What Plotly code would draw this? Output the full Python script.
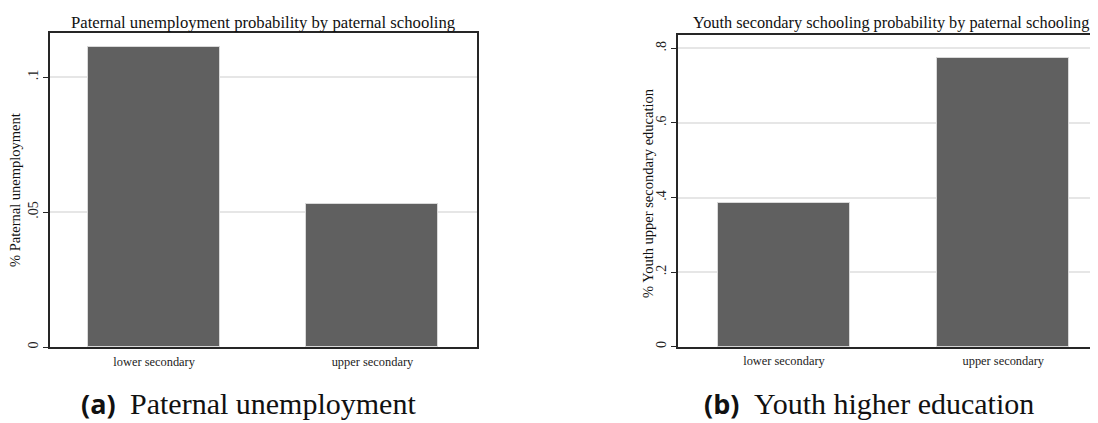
import plotly.graph_objects as go

categories = ["lower secondary", "upper secondary"]
paternal_unemployment = [0.1110, 0.0530]
youth_secondary = [0.3845, 0.7730]

left_ticks = [0, 0.05, 0.1]
left_ticktext = ["0", ".05", ".1"]
right_ticks = [0, 0.2, 0.4, 0.6, 0.8]
right_ticktext = ["0", ".2", ".4", ".6", ".8"]

# page body has an 8px margin; figure is placed at (8, 8) in the window
OFF = 8
W, H = 1098 - OFF, 423 - OFF
SERIF = "Liberation Serif"
BAR = "#606060"
BAR_LINE = "#d9d9d9"
GRID = "#e6e6e6"
AX = "#262626"

fig = go.Figure()
fig.add_trace(go.Bar(x=[0, 1], y=paternal_unemployment, width=0.605,
                     marker=dict(color=BAR, line=dict(color=BAR_LINE, width=1)),
                     xaxis="x", yaxis="y", showlegend=False))
fig.add_trace(go.Bar(x=[0, 1], y=youth_secondary, width=0.602,
                     marker=dict(color=BAR, line=dict(color=BAR_LINE, width=1)),
                     xaxis="x2", yaxis="y2", showlegend=False))

def px_x(v):
    return (v - OFF) / W

def px_y(v):
    return 1 - (v - OFF) / H

common_x = dict(showgrid=False, zeroline=False, showline=True, linecolor=AX, linewidth=1.5,
                mirror=True, ticks="", tickmode="array", tickvals=[0, 1], ticktext=categories,
                tickfont=dict(family=SERIF, size=12.4, color="#222"), ticklabelstandoff=2)
common_y = dict(showgrid=True, gridcolor=GRID, gridwidth=1.5, zeroline=False, showline=True,
                linecolor=AX, linewidth=1.5, ticks="outside", ticklen=5, tickcolor=AX,
                tickwidth=1.2, tickangle=-90, tickfont=dict(family=SERIF, size=14, color="#222"),
                tickmode="array", ticklabelstandoff=0)

fig.update_layout(
    width=W, height=H, margin=dict(l=0, r=0, t=0, b=0),
    paper_bgcolor="white", plot_bgcolor="white", bargap=0,
    xaxis=dict(common_x, domain=[px_x(50), px_x(477)], range=[-0.477, 1.479], anchor="y"),
    yaxis=dict(common_y, domain=[px_y(347), px_y(33)], range=[0, 0.1163],
               tickvals=left_ticks, ticktext=left_ticktext, anchor="x", mirror=True),
    xaxis2=dict(common_x, domain=[px_x(678), 1.0], range=[-0.4834, 1.432], anchor="y2"),
    yaxis2=dict(common_y, domain=[px_y(346.7), px_y(35)], range=[0, 0.8357],
                tickvals=right_ticks, ticktext=right_ticktext, anchor="x2", mirror=False),
)

ann = []
# panel titles
ann.append(dict(text="Paternal unemployment probability by paternal schooling",
                x=px_x(263), y=px_y(22.5), xref="paper", yref="paper",
                showarrow=False, xanchor="center", yanchor="middle",
                font=dict(family=SERIF, size=16.7, color="#111")))
ann.append(dict(text="Youth secondary schooling probability by paternal schooling",
                x=px_x(891), y=px_y(22.5), xref="paper", yref="paper",
                showarrow=False, xanchor="center", yanchor="middle",
                font=dict(family=SERIF, size=16.3, color="#111")))
# y axis titles
ann.append(dict(text="% Paternal unemployment", x=px_x(15), y=px_y(190),
                xref="paper", yref="paper", showarrow=False, textangle=-90,
                xanchor="center", yanchor="middle",
                font=dict(family=SERIF, size=14.5, color="#111")))
ann.append(dict(text="% Youth upper secondary education", x=px_x(648), y=px_y(193),
                xref="paper", yref="paper", showarrow=False, textangle=-90,
                xanchor="center", yanchor="middle",
                font=dict(family=SERIF, size=14.5, color="#111")))
# captions: bold sans label + serif text
cap_y = px_y(403)
for lab, lab_right, txt, txt_left in [("(a)", 118, "Paternal unemployment", 128),
                                      ("(b)", 741, "Youth higher education", 752)]:
    ann.append(dict(text="<b>" + lab + "</b>", x=px_x(lab_right), y=cap_y,
                    xref="paper", yref="paper", showarrow=False,
                    xanchor="right", yanchor="middle",
                    font=dict(family="Open Sans", size=27, color="#111")))
    ann.append(dict(text=txt, x=px_x(txt_left), y=cap_y,
                    xref="paper", yref="paper", showarrow=False,
                    xanchor="left", yanchor="middle",
                    font=dict(family=SERIF, size=30, color="#111")))
fig.update_layout(annotations=ann)

fig.write_html("out.html")
